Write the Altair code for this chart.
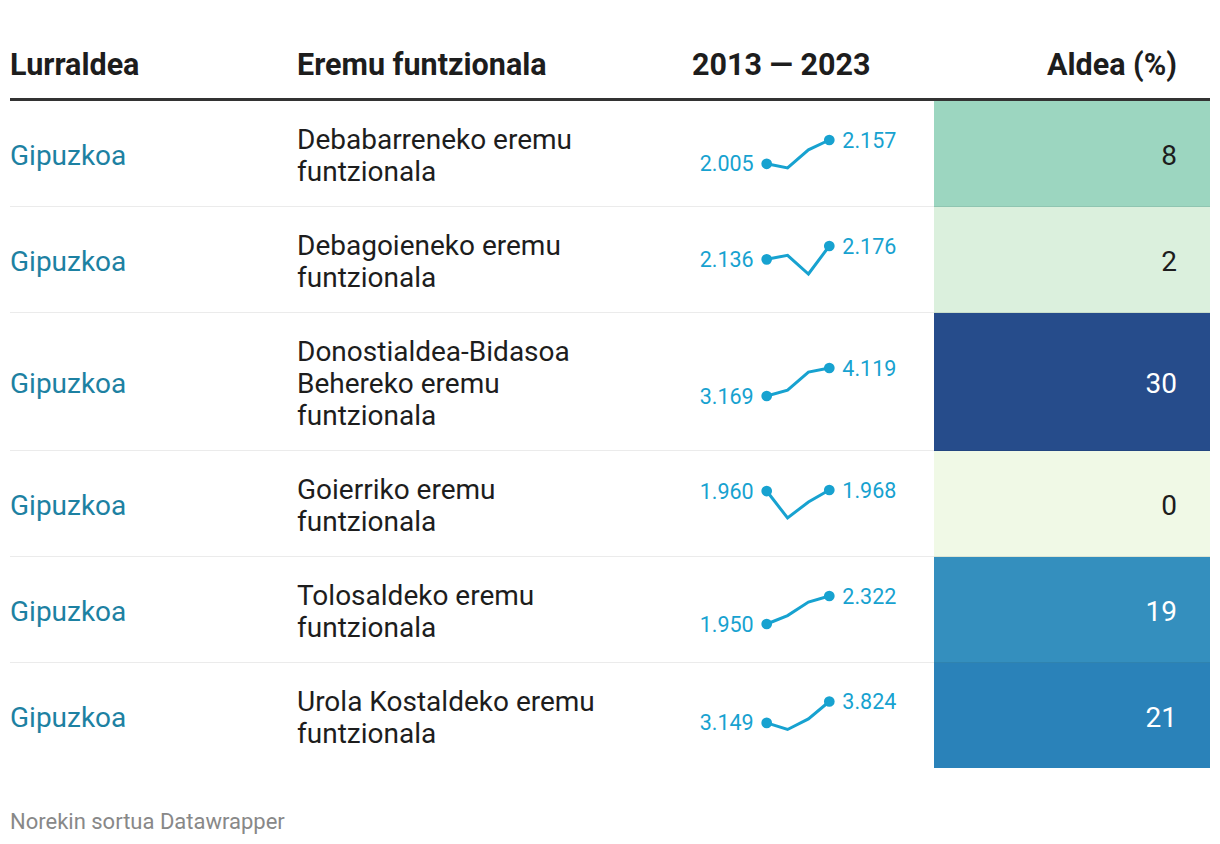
import textwrap
import altair as alt
import pandas as pd

# ---------------- data ----------------
regions = ["Gipuzkoa", "Gipuzkoa", "Gipuzkoa", "Gipuzkoa", "Gipuzkoa", "Gipuzkoa"]
areas = [
    "Debabarreneko eremu funtzionala",
    "Debagoieneko eremu funtzionala",
    "Donostialdea-Bidasoa Behereko eremu funtzionala",
    "Goierriko eremu funtzionala",
    "Tolosaldeko eremu funtzionala",
    "Urola Kostaldeko eremu funtzionala",
]
periods = ["p1", "p2", "p3", "p4"]  # four sparkline points, 2013 ... 2023
series_debabarrena = [2005, 1978, 2094, 2157]
series_debagoiena = [2136, 2148, 2092, 2176]
series_donostialdea = [3169, 3367, 3980, 4119]
series_goierri = [1960, 1750, 1875, 1968]
series_tolosaldea = [1950, 2062, 2242, 2322]
series_urola = [3149, 2940, 3274, 3824]
series = [series_debabarrena, series_debagoiena, series_donostialdea,
          series_goierri, series_tolosaldea, series_urola]
diffs = [8, 2, 30, 0, 19, 21]
headers = ["Lurraldea", "Eremu funtzionala", "2013 — 2023", "Aldea (%)"]
footer_text = "Norekin sortua Datawrapper"

# ---------------- style / layout ----------------
FONT = "Roboto"
W = 1202
ROW_H = [106, 106, 138, 106, 106, 105]
HEAD_H = 93
FOOT_H = 66
BODY_FS = 28
HEAD_FS = 30.5
SPARK_FS = 21.5
LINE_H = 32
SPARK = "#17a2d0"
TEXT = "#1d1d1d"
TEAL = "#1d81a2"
X_REGION, X_AREA, X_SPARK_L, X_SPARK_R = 2, 289, 758.7, 821.3
X_CELL, X_NUM = 926, 1169

color_scale = alt.Scale(domain=[0, 8, 20, 30],
                        range=["#f0f9e6", "#9cd6c0", "#2a88be", "#264c8b"],
                        interpolate="rgb")


def fmt(v):
    return f"{v:,}".replace(",", ".")


def wrap(s):
    return textwrap.wrap(s, width=22, break_on_hyphens=False)


def row_chart(i, h, last):
    c = h / 2
    lines = wrap(areas[i])
    rowdf = pd.DataFrame({"region": [regions[i]], "area": ["\n".join(lines)],
                          "diff": [diffs[i]]})
    vals = series[i]
    spark = pd.DataFrame({
        "period": periods,
        "value": vals,
        "label": [fmt(v) for v in vals],
        "pos": ["first"] + ["mid"] * (len(vals) - 2) + ["last"],
    })
    b = alt.Chart(rowdf)
    cell = b.mark_rect().encode(
        x=alt.value(X_CELL), x2=alt.value(W), y=alt.value(0), y2=alt.value(h),
        color=alt.Color("diff:Q", scale=color_scale, legend=None))
    region_t = b.mark_text(align="left", baseline="middle", fontSize=BODY_FS,
                           color=TEAL, font=FONT).encode(
        x=alt.value(X_REGION), y=alt.value(c + 3), text="region:N")
    area_t = b.mark_text(align="left", baseline="middle", fontSize=BODY_FS,
                         color=TEXT, lineBreak="\n", lineHeight=LINE_H, font=FONT).encode(
        x=alt.value(X_AREA), y=alt.value(c + 3 - (len(lines) - 1) * LINE_H / 2),
        text="area:N")
    diff_t = b.mark_text(align="right", baseline="middle", fontSize=BODY_FS,
                         font=FONT).encode(
        x=alt.value(X_NUM), y=alt.value(c + 3), text="diff:Q",
        color=alt.condition(alt.datum.diff > 15, alt.value("white"), alt.value(TEXT)))
    layers = [cell]
    if not last:
        sep = b.mark_rule(color="black", opacity=0.08, strokeWidth=1).encode(
            x=alt.value(X_REGION), x2=alt.value(W), y=alt.value(h - 0.5))
        layers.append(sep)
    layers += [region_t, area_t, diff_t]

    xs = alt.X("period:O", scale=alt.Scale(type="point", range=[X_SPARK_L, X_SPARK_R],
                                           padding=0), axis=None)
    ys = alt.Y("value:Q", scale=alt.Scale(zero=False, nice=False, range=[c + 14, c - 14]),
               axis=None)
    sb = alt.Chart(spark).encode(x=xs, y=ys)
    line = sb.mark_line(color=SPARK, strokeWidth=3)
    pts = sb.mark_point(filled=True, size=115, opacity=1, color=SPARK).transform_filter(
        "datum.pos != 'mid'")
    lab_first = sb.mark_text(align="right", baseline="middle", dx=-13, dy=1.5,
                             fontSize=SPARK_FS, color=SPARK, font=FONT).encode(
        text="label:N").transform_filter("datum.pos == 'first'")
    lab_last = sb.mark_text(align="left", baseline="middle", dx=13, dy=1.5,
                            fontSize=SPARK_FS, color=SPARK, font=FONT).encode(
        text="label:N").transform_filter("datum.pos == 'last'")
    layers += [line, pts, lab_first, lab_last]
    return alt.layer(*layers).properties(width=W, height=h)


# header
hd = pd.DataFrame({"h": headers})
hb = alt.Chart(hd)
head_pos = [(X_REGION, "left"), (X_AREA, "left"), (684, "left"), (X_NUM, "right")]
head_layers = []
for k, (xp, al) in enumerate(head_pos):
    head_layers.append(
        hb.mark_text(align=al, baseline="alphabetic", fontSize=HEAD_FS, fontWeight="bold",
                     color=TEXT, font=FONT)
        .encode(x=alt.value(xp), y=alt.value(67), text="h:N")
        .transform_filter(alt.datum.h == headers[k]))
head_layers.append(
    hb.mark_rule(color="#333333", strokeWidth=3).encode(
        x=alt.value(X_REGION), x2=alt.value(W), y=alt.value(HEAD_H - 1.5))
    .transform_filter(alt.datum.h == headers[0]))
header = alt.layer(*head_layers).properties(width=W, height=HEAD_H)

rows = [row_chart(i, ROW_H[i], i == len(ROW_H) - 1) for i in range(len(ROW_H))]

foot = alt.Chart(pd.DataFrame({"f": [footer_text]})).mark_text(
    align="left", baseline="alphabetic", fontSize=22, color="#888888", font=FONT
).encode(x=alt.value(X_REGION), y=alt.value(61), text="f:N").properties(width=W, height=FOOT_H)

chart = alt.vconcat(header, *rows, foot, spacing=0, bounds="flush").resolve_scale(
    x="independent", y="independent", color="shared"
).properties(padding=0).configure(font=FONT, view=alt.ViewConfig(stroke=None))

chart.save("out.html", embed_options={"renderer": "svg", "actions": False})
